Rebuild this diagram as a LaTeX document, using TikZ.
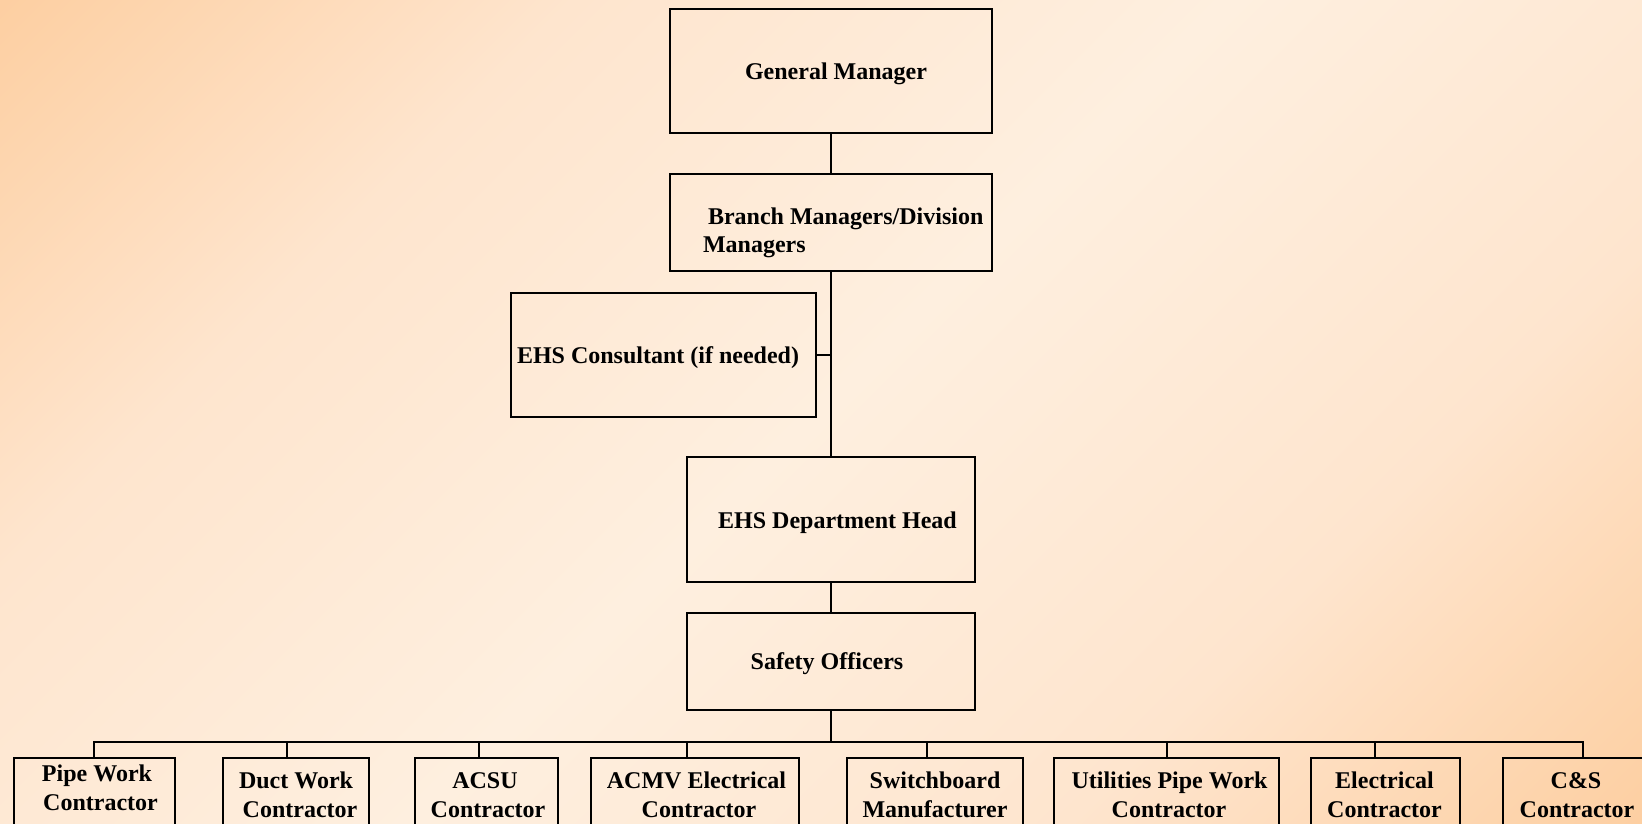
\documentclass[tikz,border=0pt]{standalone}
\usepackage{fontspec}
\setmainfont{Liberation Serif}
\definecolor{bgA}{RGB}{253,207,162}
\definecolor{bgM}{RGB}{254,229,206}
\definecolor{bgB}{RGB}{254,239,223}
\pgfdeclarehorizontalshading{bgsh}{100bp}{color(0bp)=(bgA); color(14.6bp)=(bgA); color(31bp)=(bgM); color(50bp)=(bgB); color(69bp)=(bgM); color(85.4bp)=(bgA); color(100bp)=(bgA)}
\tikzset{
  box/.style={draw=black, line width=2.8pt, inner sep=0pt, outer sep=0pt, rectangle},
  txt/.style={anchor=base, inner sep=0pt, outer sep=0pt, text=black, font=\bfseries\fontsize{24}{29}\selectfont},
  txtw/.style={txt, anchor=base west},
  link/.style={draw=black, line width=2.8pt}
}
\begin{document}
\begin{tikzpicture}[x=1pt,y=-1pt]
\useasboundingbox (0,0) rectangle (1642,824);
\clip (0,0) rectangle (1642,824);
\shade[shading=bgsh, shading angle=-45] (0,0) rectangle (1642,824);

% boxes
\node[box, minimum width=322pt, minimum height=124pt] (gm) at (831,71) {};
\node[box, minimum width=322pt, minimum height=97pt] (bm) at (831,222.5) {};
\node[box, minimum width=305pt, minimum height=124pt] (ehsc) at (663.5,355) {};
\node[box, minimum width=288pt, minimum height=125pt] (ehsh) at (831,519.5) {};
\node[box, minimum width=288pt, minimum height=97pt] (so) at (831,661.5) {};

\node[box, minimum width=161pt, minimum height=100pt] (b1) at (94.5,808) {};
\node[box, minimum width=146pt, minimum height=100pt] (b2) at (296,808) {};
\node[box, minimum width=143pt, minimum height=100pt] (b3) at (486.5,808) {};
\node[box, minimum width=208pt, minimum height=100pt] (b4) at (695,808) {};
\node[box, minimum width=176pt, minimum height=100pt] (b5) at (935,808) {};
\node[box, minimum width=225pt, minimum height=100pt] (b6) at (1166.5,808) {};
\node[box, minimum width=149pt, minimum height=100pt] (b7) at (1385.5,808) {};
\node[box, minimum width=148pt, minimum height=100pt] (b8) at (1577,808) {};

% texts
\node[txt] (gmt) at (836,80) {General Manager};
\node[txtw] (bmt1) at (708,224) {Branch Managers/Division};
\node[txtw] (bmt2) at (703,252) {Managers};
\node[txtw] (ehsct) at (517,363) {EHS Consultant (if needed)};
\node[txt] (ehsht) at (837.5,528) {EHS Department Head};
\node[txt] (sot) at (827,669) {Safety Officers};

\node[txt] (b1a) at (97,781) {Pipe Work};
\node[txt] (b1b) at (100.5,810) {Contractor};
\node[txt] (b2a) at (296,788) {Duct Work};
\node[txt] (b2b) at (300,817) {Contractor};
\node[txt] (b3a) at (485,788) {ACSU};
\node[txt] (b3b) at (488,817) {Contractor};
\node[txt] (b4a) at (696.5,788) {ACMV Electrical};
\node[txt] (b4b) at (699,817) {Contractor};
\node[txt] (b5a) at (935,788) {Switchboard};
\node[txt] (b5b) at (935,817) {Manufacturer};
\node[txt] (b6a) at (1169.5,788) {Utilities Pipe Work};
\node[txt] (b6b) at (1169,817) {Contractor};
\node[txt] (b7a) at (1384.5,788) {Electrical};
\node[txt] (b7b) at (1384.5,817) {Contractor};
\node[txt] (b8a) at (1576,788) {C\&S};
\node[txt] (b8b) at (1577,817) {Contractor};

% bus coordinates
\coordinate (bus) at (831,742);
\coordinate (t1) at (94,742);
\coordinate (t2) at (287,742);
\coordinate (t3) at (479,742);
\coordinate (t4) at (687,742);
\coordinate (t5) at (927,742);
\coordinate (t6) at (1167,742);
\coordinate (t7) at (1375,742);
\coordinate (t8) at (1583,742);

% connectors
\draw[link] (gm.south) -- (bm.north);
\draw[link] (bm.south) -- (ehsh.north);
\draw[link] (ehsc.east) -- (ehsc.east -| bm.south);
\draw[link] (ehsh.south) -- (so.north);
\draw[link] (so.south) -- (bus);
\draw[link, line cap=rect] (t1) -- (t8);
\draw[link] (t1) -- (t1 |- b1.north);
\draw[link] (t2) -- (t2 |- b2.north);
\draw[link] (t3) -- (t3 |- b3.north);
\draw[link] (t4) -- (t4 |- b4.north);
\draw[link] (t5) -- (t5 |- b5.north);
\draw[link] (t6) -- (t6 |- b6.north);
\draw[link] (t7) -- (t7 |- b7.north);
\draw[link] (t8) -- (t8 |- b8.north);
\end{tikzpicture}
\end{document}
